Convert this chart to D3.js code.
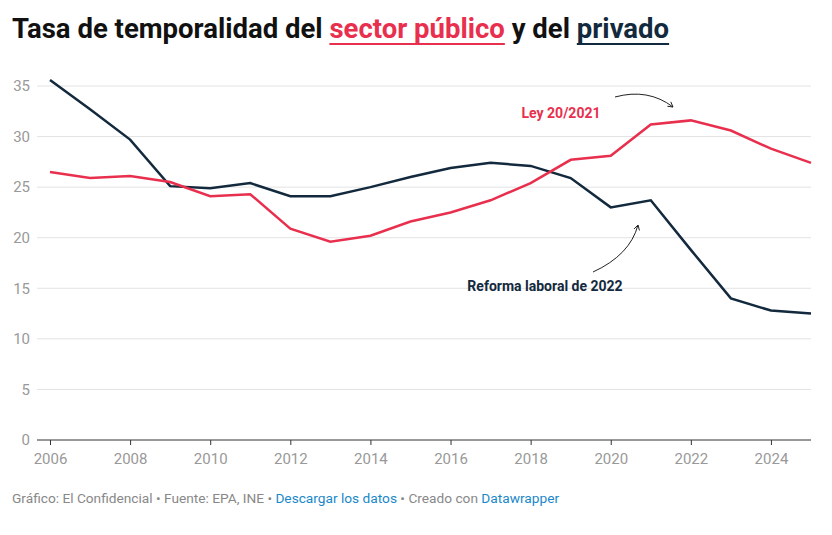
<!DOCTYPE html>
<html><head><meta charset="utf-8">
<script src="https://cdn.jsdelivr.net/npm/d3@7"></script>
<style>
body{margin:0;background:#fff;font-family:Roboto,sans-serif;}
</style></head>
<body>
<svg id="chart" width="832" height="535"></svg>
<script>
const years = d3.range(2006, 2026);
const publico = [26.5,25.9,26.1,25.5,24.1,24.3,20.9,19.6,20.2,21.6,22.5,23.7,25.4,27.7,28.1,31.2,31.6,30.6,28.8,27.4];
const privado = [35.6,32.7,29.7,25.1,24.9,25.4,24.1,24.1,25.0,26.0,26.9,27.4,27.1,25.9,23.0,23.7,18.8,14.0,12.8,12.5];
const yTicks = [0,5,10,15,20,25,30,35];
const xTicks = d3.range(2006, 2026, 2);

const red = "#e8304e", navy = "#13293d";
const svg = d3.select("#chart");

// title
const title = svg.append("text").attr("x", 12).attr("y", 38)
  .attr("font-size", 27.5).attr("font-weight", 700).attr("fill", "#111");
title.append("tspan").text("Tasa de temporalidad del ");
title.append("tspan").attr("fill", red).text("sector público");
title.append("tspan").text(" y del ");
title.append("tspan").attr("fill", navy).text("privado");
const tsp = title.selectAll("tspan").nodes();
[[1, red], [3, navy]].forEach(([i, c]) => {
  const n = tsp[i], s = n.getStartPositionOfChar(0).x, e = n.getEndPositionOfChar(n.getNumberOfChars() - 1).x;
  svg.append("rect").attr("x", s).attr("y", 43).attr("width", e - s).attr("height", 2).attr("fill", c);
});

const x = d3.scaleLinear().domain([2006, 2025]).range([50, 811]);
const y = d3.scaleLinear().domain([0, 35]).range([440, 86]);

// grid
svg.append("g").selectAll("line").data(yTicks).join("line")
  .attr("x1", 37).attr("x2", 811).attr("y1", d => y(d)).attr("y2", d => y(d))
  .attr("stroke", d => d === 0 ? "#333" : "#e3e3e3").attr("stroke-width", 1);
svg.append("g").selectAll("text").data(yTicks).join("text")
  .attr("x", 30).attr("y", d => y(d)).attr("dy", "0.35em").attr("text-anchor", "end")
  .attr("font-size", 15).attr("fill", "#999").text(d => d);

const xAxis = svg.append("g").attr("transform", "translate(0,440)")
  .call(d3.axisBottom(x).tickValues(xTicks).tickFormat(d3.format("d")).tickSize(5));
xAxis.select(".domain").remove();
xAxis.selectAll("line").attr("stroke", "#333");
xAxis.selectAll("text").attr("font-size", 15).attr("fill", "#999").attr("font-family", "Roboto").attr("dy", "1.05em");

const line = d3.line().x((d, i) => x(years[i])).y(d => y(d));
svg.append("path").datum(privado).attr("d", line).attr("fill", "none").attr("stroke", navy).attr("stroke-width", 2.5);
svg.append("path").datum(publico).attr("d", line).attr("fill", "none").attr("stroke", red).attr("stroke-width", 2.5);

// annotations
svg.append("defs").append("marker").attr("id", "ah").attr("viewBox", "0 0 10 10")
  .attr("refX", 8).attr("refY", 5).attr("markerWidth", 7).attr("markerHeight", 7).attr("orient", "auto")
  .append("path").attr("d", "M1,1 L8,5 L1,9").attr("fill", "none").attr("stroke", "#222").attr("stroke-width", 1.3);
svg.append("text").attr("x", 561).attr("y", 118).attr("text-anchor", "middle")
  .attr("font-size", 14).attr("font-weight", 700).attr("fill", red).text("Ley 20/2021");
svg.append("path").attr("d", "M615,97 Q648,88 673,107").attr("fill", "none").attr("stroke", "#222").attr("marker-end", "url(#ah)");
svg.append("text").attr("x", 545).attr("y", 291).attr("text-anchor", "middle")
  .attr("font-size", 14).attr("font-weight", 700).attr("fill", navy).text("Reforma laboral de 2022");
svg.append("path").attr("d", "M593,272 Q630,255 638,225").attr("fill", "none").attr("stroke", "#222").attr("marker-end", "url(#ah)");

// footer
const f = svg.append("text").attr("x", 12).attr("y", 503).attr("font-size", 13.7).attr("fill", "#888");
f.append("tspan").text("Gráfico: El Confidencial • Fuente: EPA, INE • ");
f.append("tspan").attr("fill", "#1a88c9").text("Descargar los datos");
f.append("tspan").text(" • Creado con ");
f.append("tspan").attr("fill", "#1a88c9").text("Datawrapper");
</script>
</body></html>
